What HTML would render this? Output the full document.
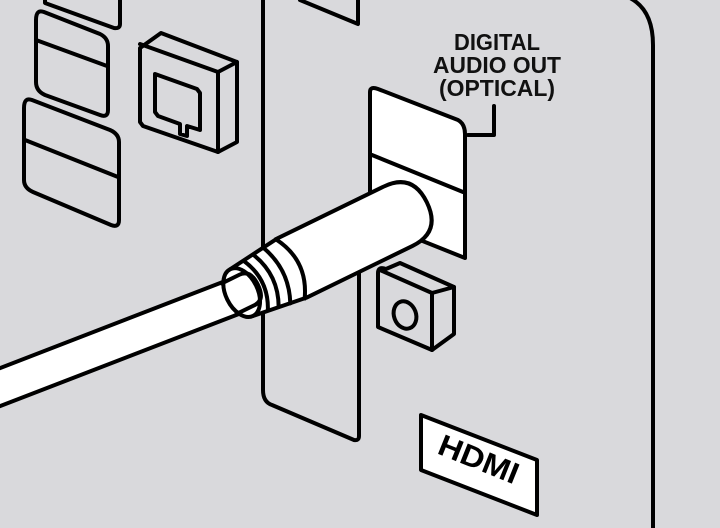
<!DOCTYPE html>
<html><head><meta charset="utf-8"><style>
html,body{margin:0;padding:0;background:#d9d9dc;overflow:hidden;width:720px;height:528px;}
svg{display:block;}
</style></head><body>
<svg width="720" height="528" viewBox="0 0 720 528" xmlns="http://www.w3.org/2000/svg">
<rect width="720" height="528" fill="#d9d9dc"/>
<g fill="none" stroke="#000" stroke-width="4" stroke-linejoin="round" stroke-linecap="round">
  <path d="M630,-2 Q653,10 653,45 L653,530"/>
  <path d="M45,0 L45,3 L114,28 Q120,29 120,24 L120,-2"/>
  <path d="M44,12 L100,34 Q108,38 108,46 L108,110 Q108,118 100,115 L45,95 Q36,91 36,82 L36,20 Q36,9 44,12 Z"/>
  <path d="M36,40 L107,66"/>
  <path d="M32,100 L110,130 Q119,134 119,142 L119,220 Q119,228 111,225 L33,192 Q24,188 24,180 L24,108 Q24,97 32,100 Z"/>
  <path d="M25,140 L118,177"/>
  <path d="M140,48 L161,33 L237,62 L237,142 L218,152 L143,126 L140,122 Z" fill="#d9d9dc"/>
  <path d="M140,44 L218,72 L237,62"/>
  <path d="M218,72 L218,152"/>
  <path d="M155,74 L197,89 L200,93 L200,130 L187,126 L187,136 L180,134 L180,124 L158,116 L155,112 Z"/>
  <path d="M263,0 L263,390 Q263,402 272,405 L354,440 Q359,441 359,436 L359,270"/>
  <path d="M300,0 L358,24 L358,0"/>
  <path d="M370,92 Q370,86 378,89 L458,120 Q465,124 465,134 L465,258 L370,220 Z" fill="#fff"/>
  <path d="M372,155 L463,192"/>
  <path d="M494,106 L494,135 L468,135"/>
  <path d="M378,273 Q378,266 386,269 L400,263 L454,287 L454,334 L432,350 L378,327 Z" fill="#d9d9dc"/>
  <path d="M380,270 L432,293 L454,287"/>
  <path d="M432,293 L432,350"/>
  <ellipse cx="405" cy="315" rx="11" ry="14" transform="rotate(-20 405 315)"/>
  <path d="M421,415 L537,460 L537,515 L421,470 Z" fill="#fff"/>
  <path d="M-10,372 L228,280 L244,312 L-10,410 Z" fill="#fff" stroke="none"/>
  <path d="M-10,372 L228,280 M-10,410 L244,312"/>
  <g transform="translate(292,268) rotate(-26)" fill="#fff">
    <path d="M-56,-26 L0,-33 L118,-33 Q150,-33 150,0 Q150,33 118,33 L0,33 L-56,26 Z"/>
    <path d="M-40,-27 Q-26,0 -40,27"/>
    <path d="M-29,-29 Q-15,0 -29,29"/>
    <path d="M-17,-31 Q-3,0 -17,31"/>
    <path d="M-2,-33 Q18,0 -2,33"/>
    <ellipse cx="-56" cy="0" rx="16" ry="26"/>
    <path d="M-70,-17 L-50,-17 Q-38,-17 -38,0 Q-38,17 -50,17 L-70,17" fill="none"/>
  </g>
</g>
<g font-family="'Liberation Sans Narrow', 'Liberation Sans', sans-serif" font-weight="bold" fill="#111" font-size="23" text-anchor="middle">
  <text x="497" y="50" textLength="86" lengthAdjust="spacingAndGlyphs">DIGITAL</text>
  <text x="497" y="73" textLength="128" lengthAdjust="spacingAndGlyphs">AUDIO OUT</text>
  <text x="497" y="96" textLength="116" lengthAdjust="spacingAndGlyphs">(OPTICAL)</text>
</g>
<text x="0" y="0" font-family="'Liberation Sans', sans-serif" font-weight="bold" font-size="30" fill="#000" transform="translate(436,453) rotate(22)" textLength="84" lengthAdjust="spacingAndGlyphs">HDMI</text>
</svg>
</body></html>
